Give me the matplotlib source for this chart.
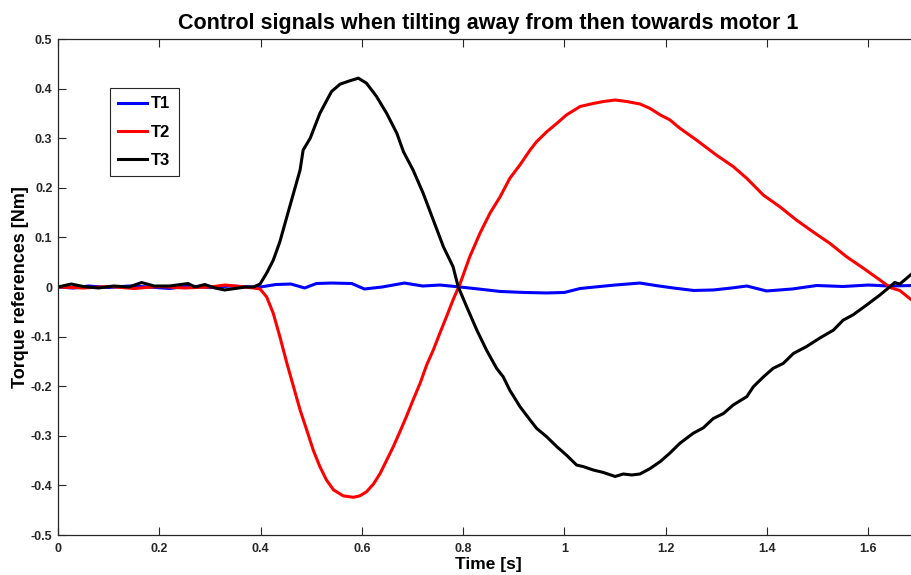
import matplotlib
matplotlib.use("Agg")
import matplotlib.pyplot as plt
from matplotlib.ticker import FuncFormatter

# ---- data ----
t1 = [0, 0.03, 0.06, 0.1, 0.14, 0.18, 0.22, 0.26, 0.3, 0.34, 0.38, 0.40, 0.43, 0.46,
      0.487, 0.51, 0.54, 0.58, 0.605, 0.64, 0.684, 0.72, 0.754, 0.794, 0.83, 0.873,
      0.92, 0.965, 1.0, 1.031, 1.06, 1.10, 1.149, 1.18, 1.215, 1.255, 1.294, 1.33,
      1.36, 1.399, 1.45, 1.498, 1.55, 1.6, 1.64, 1.69]
v1 = [0, -0.002, 0.002, -0.001, 0.002, 0.0, -0.003, 0.002, -0.001, 0.002, 0.0, 0.0,
      0.005, 0.006, -0.002, 0.007, 0.008, 0.007, -0.004, 0.0, 0.008, 0.002, 0.004,
      0.0, -0.004, -0.009, -0.011, -0.012, -0.011, -0.003, 0.0, 0.004, 0.008, 0.003,
      -0.002, -0.007, -0.006, -0.002, 0.002, -0.008, -0.004, 0.003, 0.001, 0.004,
      0.002, 0.003]

t2 = [0, 0.05, 0.1, 0.15, 0.2, 0.25, 0.3, 0.33, 0.36, 0.386, 0.399, 0.412, 0.425,
      0.438, 0.452, 0.465, 0.478, 0.491, 0.504, 0.517, 0.530, 0.544, 0.563, 0.583,
      0.596, 0.609, 0.623, 0.636, 0.649, 0.662, 0.675, 0.688, 0.701, 0.715, 0.728,
      0.741, 0.754, 0.767, 0.780, 0.794, 0.813, 0.833, 0.853, 0.873, 0.892, 0.912,
      0.932, 0.945, 0.965, 0.985, 1.004, 1.031, 1.057, 1.077, 1.100, 1.123, 1.149,
      1.169, 1.189, 1.208, 1.228, 1.261, 1.300, 1.333, 1.360, 1.393, 1.425, 1.458,
      1.491, 1.524, 1.557, 1.590, 1.623, 1.643, 1.662, 1.69]
v2 = [0, -0.002, 0.001, -0.003, 0.001, -0.002, 0.0, 0.004, 0.001, -0.002, -0.004,
      -0.020, -0.053, -0.100, -0.154, -0.201, -0.248, -0.288, -0.329, -0.362, -0.389,
      -0.409, -0.421, -0.424, -0.421, -0.413, -0.397, -0.376, -0.349, -0.322, -0.292,
      -0.261, -0.228, -0.194, -0.157, -0.127, -0.093, -0.060, -0.026, 0.007, 0.061,
      0.108, 0.149, 0.182, 0.219, 0.246, 0.276, 0.293, 0.313, 0.330, 0.347, 0.364,
      0.370, 0.374, 0.377, 0.374, 0.369, 0.360, 0.347, 0.337, 0.320, 0.296, 0.266,
      0.243, 0.219, 0.185, 0.162, 0.135, 0.111, 0.088, 0.061, 0.038, 0.014, -0.001,
      -0.007, -0.030]

t3 = [0, 0.026, 0.05, 0.08, 0.11, 0.14, 0.165, 0.19, 0.22, 0.257, 0.27, 0.29, 0.31,
      0.329, 0.35, 0.37, 0.386, 0.399, 0.412, 0.425, 0.438, 0.452, 0.465, 0.478,
      0.484, 0.498, 0.517, 0.540, 0.557, 0.577, 0.593, 0.609, 0.629, 0.649, 0.669,
      0.682, 0.701, 0.721, 0.741, 0.761, 0.780, 0.790, 0.807, 0.827, 0.846, 0.866,
      0.879, 0.892, 0.912, 0.932, 0.945, 0.965, 0.985, 1.004, 1.024, 1.037, 1.057,
      1.077, 1.100, 1.116, 1.133, 1.149, 1.169, 1.189, 1.208, 1.228, 1.254, 1.274,
      1.294, 1.314, 1.333, 1.360, 1.373, 1.393, 1.412, 1.432, 1.452, 1.478, 1.504,
      1.531, 1.550, 1.570, 1.597, 1.623, 1.643, 1.652, 1.662, 1.69]
v3 = [0, 0.006, 0.001, -0.002, 0.002, 0.0, 0.009, 0.002, 0.002, 0.007, 0.0, 0.005,
      -0.002, -0.006, -0.003, 0.0, 0.0, 0.006, 0.028, 0.054, 0.091, 0.142, 0.189,
      0.236, 0.276, 0.300, 0.350, 0.394, 0.409, 0.416, 0.421, 0.411, 0.384, 0.350,
      0.310, 0.273, 0.236, 0.189, 0.135, 0.081, 0.041, 0.001, -0.040, -0.087, -0.127,
      -0.164, -0.181, -0.208, -0.241, -0.268, -0.285, -0.302, -0.322, -0.339, -0.359,
      -0.362, -0.369, -0.374, -0.382, -0.377, -0.379, -0.377, -0.366, -0.352, -0.335,
      -0.315, -0.295, -0.284, -0.265, -0.255, -0.238, -0.221, -0.201, -0.181, -0.164,
      -0.154, -0.134, -0.120, -0.103, -0.087, -0.067, -0.056, -0.036, -0.016, 0.001,
      0.009, 0.006, 0.030]

series_names = ["T1", "T2", "T3"]
series_colors = ["#0000ff", "#ff0000", "#000000"]
xticks = [0, 0.2, 0.4, 0.6, 0.8, 1.0, 1.2, 1.4, 1.6]
yticks = [-0.5, -0.4, -0.3, -0.2, -0.1, 0, 0.1, 0.2, 0.3, 0.4, 0.5]

title = "Control signals when tilting away from then towards motor 1"
xlabel = "Time [s]"
ylabel = "Torque references [Nm]"

# ---- figure ----
plt.rcParams['font.family'] = ['Liberation Sans', 'DejaVu Sans']
plt.rcParams['font.weight'] = 'bold'

fig = plt.figure(figsize=(9.12, 5.75), dpi=100)
ax = fig.add_axes([58 / 912, 40 / 575, (919 - 58) / 912, (535 - 39) / 575])

for t, v, name, c in zip([t1, t2, t3], [v1, v2, v3], series_names, series_colors):
    ax.plot(t, v, color=c, lw=2.2, label=name)

ax.set_xlim(0, 1.7)
ax.set_ylim(-0.5, 0.5)
ax.set_xticks(xticks)
ax.set_yticks(yticks)

def fmt(x, pos):
    s = ("%.1f" % x)
    if s.endswith(".0"):
        s = s[:-2]
    if s in ("-0",):
        s = "0"
    return s

ax.xaxis.set_major_formatter(FuncFormatter(fmt))
ax.yaxis.set_major_formatter(FuncFormatter(fmt))
ax.tick_params(direction='in', top=True, right=True, length=6, width=0.8,
               labelsize=9, colors='#262626')
ax.tick_params(axis='x', pad=6)
ax.tick_params(axis='y', pad=4)
for lab in ax.get_xticklabels() + ax.get_yticklabels():
    lab.set_fontweight('bold')
for s in ax.spines.values():
    s.set_color('#262626')
    s.set_linewidth(0.9)

ax.set_title(title, fontsize=15.5, fontweight='bold', pad=7)
ax.set_xlabel(xlabel, fontsize=12.5, fontweight='bold', labelpad=1)
ax.set_ylabel(ylabel, fontsize=13, fontweight='bold', labelpad=1)

leg = ax.legend(loc='upper left', bbox_to_anchor=(0.060, 0.901), fancybox=False,
                framealpha=1, edgecolor='#262626', prop={'weight': 'bold', 'size': 12},
                handlelength=1.75, handletextpad=0.25, borderpad=0.5, labelspacing=0.8,
                borderaxespad=0)
leg.get_frame().set_linewidth(0.8)

fig.savefig("out.png", dpi=100)
